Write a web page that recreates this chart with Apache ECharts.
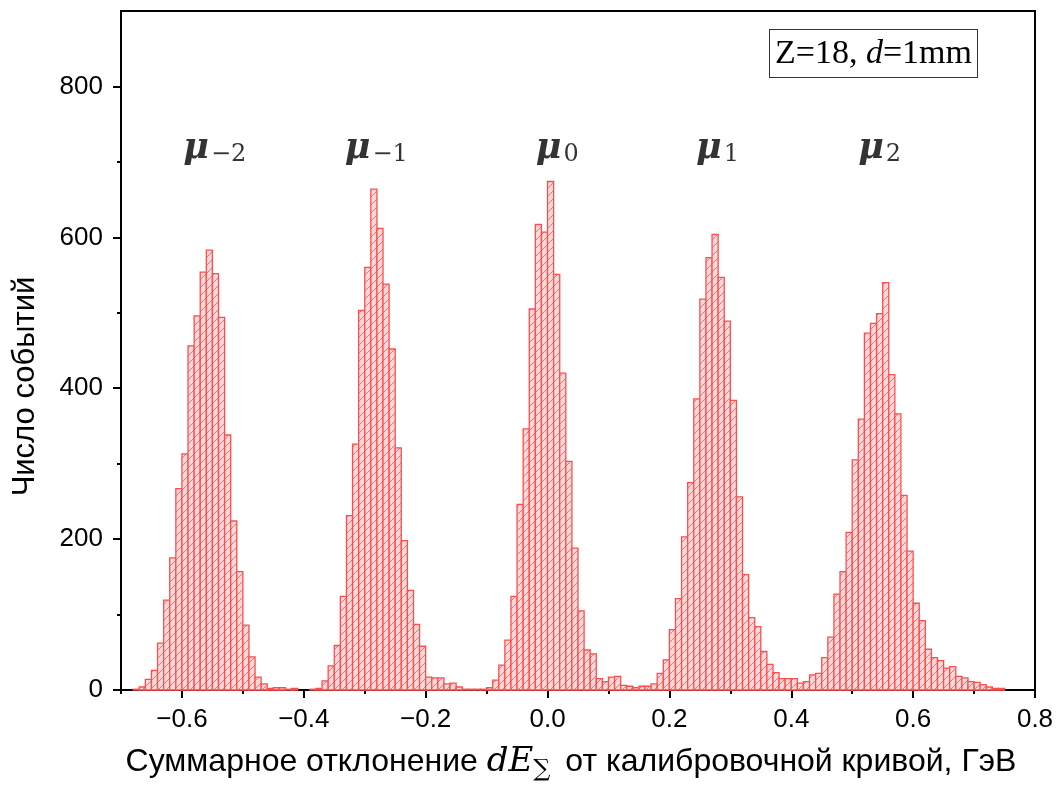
<!DOCTYPE html>
<html>
<head>
<meta charset="utf-8">
<script src="https://cdn.jsdelivr.net/npm/echarts@6/dist/echarts.min.js"></script>
<style>html,body{margin:0;padding:0;background:#fff;}#chart{width:1064px;height:787px;}</style>
</head>
<body>
<div id="chart"></div>
<script>
// Histogram bins: left edge of first bin, bin width, counts per bin
const binStart = -0.70;
const binWidth = 0.01;
const counts = [
  0, 0, 1, 4, 14, 26, 62, 119, 175, 267,          // -0.70 .. -0.61
  313, 456, 496, 554, 583, 552, 494, 338, 224, 157, // -0.60 .. -0.51
  86, 44, 17, 8, 2, 3, 3, 1, 2, 0,               // -0.50 .. -0.41
  0, 1, 2, 12, 32, 59, 124, 231, 326, 503,        // -0.40 .. -0.31
  560, 664, 612, 538, 452, 321, 198, 132, 87, 58, // -0.30 .. -0.21
  17, 16, 16, 8, 9, 4, 1, 1, 1, 1,               // -0.20 .. -0.11
  3, 13, 33, 66, 124, 246, 346, 505, 617, 607,    // -0.10 .. -0.01
  674, 551, 420, 303, 188, 105, 53, 48, 15, 11,   // 0.00 .. 0.09
  17, 18, 6, 5, 3, 5, 5, 8, 22, 40,               // 0.10 .. 0.19
  80, 121, 203, 275, 386, 518, 573, 604, 547, 489, // 0.20 .. 0.29
  384, 256, 153, 96, 84, 51, 34, 23, 15, 15,      // 0.30 .. 0.39
  15, 9, 11, 20, 22, 43, 70, 127, 157, 209,       // 0.40 .. 0.49
  305, 359, 473, 486, 499, 540, 418, 366, 258, 184, // 0.50 .. 0.59
  115, 92, 54, 43, 39, 29, 31, 18, 16, 11,        // 0.60 .. 0.69
  10, 7, 4, 2, 2, 0, 0, 0, 0, 0                   // 0.70 .. 0.79
];
const xTicks = [-0.6, -0.4, -0.2, 0.0, 0.2, 0.4, 0.6, 0.8];
const xMinorTicks = [-0.7, -0.5, -0.3, -0.1, 0.1, 0.3, 0.5, 0.7];
const yTicks = [0, 200, 400, 600, 800];
const yMinorTicks = [100, 300, 500, 700];
const peakLabels = ['\u22122', '\u22121', '0', '1', '2'];
const peakLabelX = [-0.546, -0.281, 0.016, 0.279, 0.545];
const peakLabelY = [718, 718, 718, 718, 718];

const histData = counts.map((c, i) => [+(binStart + i * binWidth).toFixed(2), c]);
const labelData = peakLabels.map((t, i) => ({ value: [peakLabelX[i], peakLabelY[i]], sub: t }));

// hatch pattern
const pc = document.createElement('canvas');
pc.width = 8; pc.height = 8;
const pctx = pc.getContext('2d');
pctx.fillStyle = '#ffd9d9';
pctx.fillRect(0, 0, 8, 8);
pctx.strokeStyle = 'rgba(255,70,70,0.7)';
pctx.lineWidth = 1;
pctx.beginPath();
pctx.moveTo(-1, 9); pctx.lineTo(9, -1);
pctx.stroke();
const hatch = { image: pc, repeat: 'repeat' };

const fmtX = v => {
  const s = Math.abs(v).toFixed(1);
  return (v < -1e-9 ? '\u2212' : '') + s;
};

const tickFont = { fontFamily: 'Liberation Sans', fontSize: 26, color: '#000' };

const chart = echarts.init(document.getElementById('chart'), null, { renderer: 'canvas' });
chart.setOption({
  animation: false,
  backgroundColor: '#fff',
  grid: {
    left: 121, right: 29, top: 11, bottom: 97,
    containLabel: false, outerBoundsMode: 'none',
    show: true, borderColor: '#000', borderWidth: 2, backgroundColor: 'transparent'
  },
  xAxis: [
    {
      type: 'value', min: -0.7, max: 0.8, position: 'bottom',
      axisLine: { show: true, onZero: false, lineStyle: { color: '#000', width: 2 } },
      axisTick: { show: true, inside: false, length: 8, customValues: xTicks, lineStyle: { color: '#000', width: 2 } },
      axisLabel: Object.assign({ customValues: xTicks, margin: 17, formatter: fmtX }, tickFont),
      splitLine: { show: false },
      name: 'Суммарное отклонение {m|dE}{s|∑} от калибровочной кривой, ГэВ',
      nameLocation: 'middle', nameGap: 52,
      nameTextStyle: {
        fontFamily: 'Liberation Sans', fontSize: 32, color: '#000', padding: [0, 14, 0, 0],
        rich: {
          m: { fontFamily: 'DejaVu Serif', fontStyle: 'italic', fontSize: 34, color: '#000' },
          s: { fontFamily: 'DejaVu Serif', fontSize: 24, color: '#000', padding: [16, 6, 0, 0] }
        }
      }
    },
    {
      type: 'value', min: -0.7, max: 0.8, position: 'bottom',
      axisLine: { show: false, onZero: false },
      axisTick: { show: true, inside: false, length: 4, customValues: xMinorTicks, lineStyle: { color: '#000', width: 2 } },
      axisLabel: { show: false },
      splitLine: { show: false }
    }
  ],
  yAxis: [
    {
      type: 'value', min: 0, max: 900, position: 'left',
      axisLine: { show: true, onZero: false, lineStyle: { color: '#000', width: 2 } },
      axisTick: { show: true, inside: false, length: 8, customValues: yTicks, lineStyle: { color: '#000', width: 2 } },
      axisLabel: Object.assign({ customValues: yTicks, margin: 18 }, tickFont),
      splitLine: { show: false },
      name: 'Число событий', nameLocation: 'middle', nameRotate: 90, nameGap: 80,
      nameTextStyle: { fontFamily: 'Liberation Sans', fontSize: 31, color: '#000', padding: [0, 72, 0, 0] }
    },
    {
      type: 'value', min: 0, max: 900, position: 'left',
      axisLine: { show: false, onZero: false },
      axisTick: { show: true, inside: false, length: 4, customValues: yMinorTicks, lineStyle: { color: '#000', width: 2 } },
      axisLabel: { show: false },
      splitLine: { show: false }
    }
  ],
  series: [
    {
      type: 'custom',
      xAxisIndex: 0, yAxisIndex: 0,
      data: histData,
      encode: { x: 0, y: 1 },
      renderItem: function (params, api) {
        const x0 = api.value(0), c = api.value(1);
        if (!c) return null;
        const pTop = api.coord([x0, c]);
        const pBot = api.coord([x0 + binWidth, 0]);
        return {
          type: 'rect',
          shape: { x: pTop[0], y: pTop[1], width: pBot[0] - pTop[0], height: pBot[1] - pTop[1] },
          style: { fill: hatch, stroke: '#ff4d4d', lineWidth: 1.3 }
        };
      }
    },
    {
      type: 'scatter',
      xAxisIndex: 0, yAxisIndex: 0,
      symbolSize: 0,
      data: labelData,
      label: {
        show: true, position: [0, 0], align: 'center', verticalAlign: 'middle',
        color: '#000', textBorderWidth: 0,
        formatter: p => '{m|μ}{s|' + p.data.sub + '}',
        rich: {
          m: { fontFamily: 'DejaVu Serif', fontStyle: 'italic', fontWeight: 'bold', fontSize: 35, color: '#000', verticalAlign: 'bottom' },
          s: { fontFamily: 'DejaVu Serif', fontSize: 24, color: '#000', padding: [12, 0, 0, 2], verticalAlign: 'bottom' }
        }
      }
    }
  ],
  graphic: [
    {
      type: 'text', left: 769, top: 29, z: 100,
      style: {
        text: '{a|Z=18, }{b|d}{a|=1mm}',
        backgroundColor: '#fff', borderColor: '#333', borderWidth: 1,
        padding: [7, 5, 6, 5],
        rich: {
          a: { fontFamily: 'Liberation Serif', fontSize: 34, fill: '#000', color: '#000' },
          b: { fontFamily: 'Liberation Serif', fontStyle: 'italic', fontSize: 34, fill: '#000', color: '#000' }
        }
      }
    }
  ]
});
</script>
</body>
</html>
